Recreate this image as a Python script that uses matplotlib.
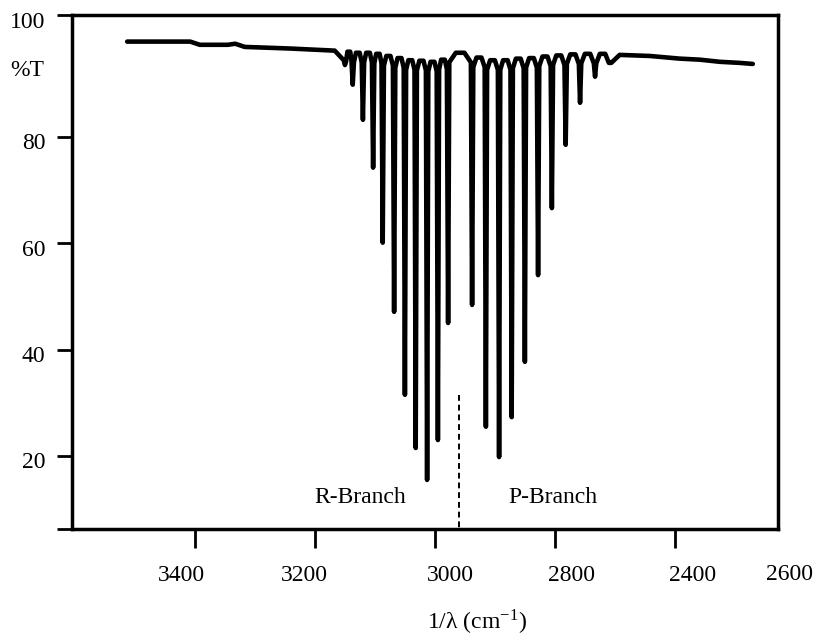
import numpy as np
import matplotlib
matplotlib.use('Agg')
import matplotlib.pyplot as plt
from matplotlib.transforms import ScaledTranslation

plt.rcParams['font.family'] = 'serif'
plt.rcParams['font.serif'] = ['Liberation Serif']
plt.rcParams['mathtext.fontset'] = 'stix'

# baseline before the band (wavenumber, %T)
base_left_wn = [3513, 3408, 3392, 3345, 3333, 3317, 3242, 3167]
base_left_T = [97.9, 97.9, 97.3, 97.3, 97.5, 96.9, 96.6, 96.2]

# absorption lines: R-branch then P-branch
line_wn = [3150, 3137, 3120, 3103, 3087, 3068, 3050, 3032, 3013, 2995, 2978,
           2938, 2915, 2893, 2872, 2850, 2828, 2805, 2782, 2758, 2733, 2708]
line_min = [93.5, 89.8, 83.2, 74.2, 60.1, 47.1, 31.5, 21.5, 15.5, 23.0, 45.0,
            48.4, 25.5, 19.8, 27.3, 37.7, 54.0, 66.6, 78.5, 86.4, 91.3, 93.9]
# %T of the trace between lines (first = before first line, last = after)
ridge_T = [96.2, 96.0, 95.8, 95.8, 95.6, 95.2, 94.8, 94.4, 94.3, 94.1, 94.5, 95.8,
           94.9, 94.4, 94.4, 94.7, 94.8, 95.1, 95.3, 95.5, 95.6, 95.6, 95.5]

# baseline after the band
base_right_wn = [2692, 2642, 2592, 2558, 2525, 2492, 2470]
base_right_T = [95.4, 95.2, 94.7, 94.5, 94.1, 93.9, 93.7]

xtick_pos = [3400, 3200, 3000, 2800, 2600]
xlabel_pos = [3422, 3218, 2975, 2772, 2570]
xtick_labels = ['3400', '3200', '3000', '2800', '2400']
ytick_labels = ['', '20', '40', '60', '80', '100']

xlo, xhi = 3605, 2428
ylo, yhi = 6.27, 102.9
centre_wn = 2960
centre_top = 31.5

# build the trace
a = 2.0      # half width of a line top (cm-1)
drop = 1.8   # shoulder drop below the ridge
wn = list(base_left_wn)
T = list(base_left_T)
for i in range(len(line_wn)):
    c, m = line_wn[i], line_min[i]
    rl, rr = ridge_T[i], ridge_T[i + 1]
    if i > 0:
        gap = line_wn[i - 1] - c
        wn += [line_wn[i - 1] - 0.32 * gap, c + 0.32 * gap]
        T += [rl, rl]
    wn += [c + a, c, c - a]
    T += [max(rl - drop, m), m, max(rr - drop, m)]
wn += base_right_wn
T += base_right_T

fig = plt.figure(figsize=(8.18, 6.35), dpi=100)
ax = fig.add_axes([72 / 818, 1 - 529 / 635, 706 / 818, 514 / 635])

ax.plot(wn, T, color='black', lw=3.3, solid_joinstyle='round', solid_capstyle='round')
ax.plot([centre_wn, centre_wn], [centre_top, ylo], color='black', lw=1.4,
        dashes=(3, 2))

ax.set_xlim(xlo, xhi)
ax.set_ylim(ylo, yhi)

for s in ax.spines.values():
    s.set_linewidth(2.5)

# x: marks as minor ticks, labels as major ticks (offset like the original)
ax.set_xticks(xtick_pos, minor=True)
ax.set_xticks(xlabel_pos)
ax.set_xticklabels(xtick_labels)
ax.tick_params(axis='x', which='minor', length=14, width=2, direction='out')
ax.tick_params(axis='x', which='major', length=0, pad=26, labelsize=17)
ax.text(2408, -35 / 514, '2600', transform=ax.get_xaxis_transform(),
        ha='center', va='top', fontsize=17)

ax.set_yticks([ylo, 20, 40, 60, 80, yhi])
ax.set_yticklabels(ytick_labels)
ax.tick_params(axis='y', length=11, width=2, direction='out', pad=8, labelsize=17)
shift = ScaledTranslation(0, -0.045, fig.dpi_scale_trans)
for lab in ax.get_yticklabels():
    lab.set_transform(lab.get_transform() + shift)

ax.text(3125, 12.1, 'R-Branch', ha='center', va='center', fontsize=17)
ax.text(2803, 12.1, 'P-Branch', ha='center', va='center', fontsize=17)

fig.text(27 / 818, 1 - 71 / 635, '%T', ha='center', va='center', fontsize=17)
fig.text(477 / 818, 1 - 622 / 635, r'1/λ (cm$^{\mathregular{-1}}$)', ha='center',
         va='center', fontsize=17)

plt.savefig('out.png', dpi=100)
